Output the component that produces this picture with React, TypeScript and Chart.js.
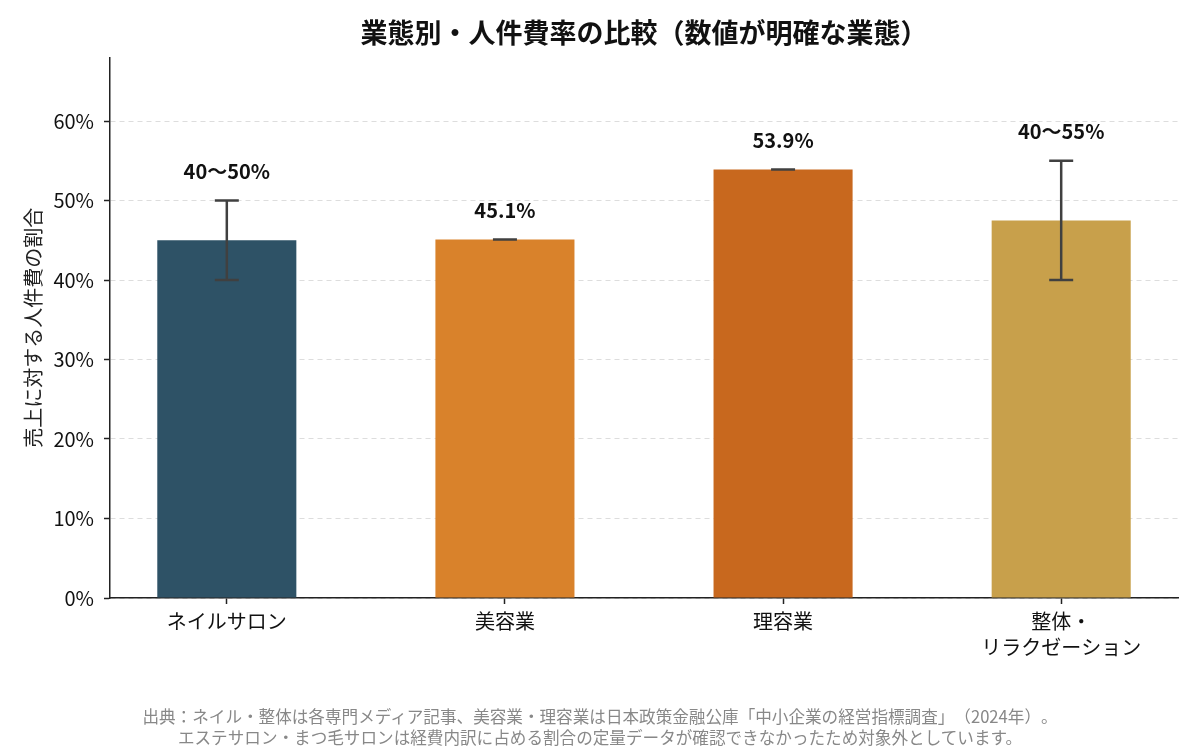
import { useEffect, useRef } from 'react';
import { Chart, registerables, Plugin } from 'chart.js';

Chart.register(...registerables);

const categories: (string | string[])[] = ['ネイルサロン', '美容業', '理容業', ['整体・', 'リラクゼーション']];
const values = [45, 45.1, 53.9, 47.5];
const lows = [40, 45.1, 53.9, 40];
const highs = [50, 45.1, 53.9, 55];
const valueLabels = ['40〜50%', '45.1%', '53.9%', '40〜55%'];
const barColors = ['#2E5266', '#D9822B', '#C8681E', '#C8A04B'];
const yTicks = [0, 10, 20, 30, 40, 50, 60];
const sourceNotes = [
  '出典：ネイル・整体は各専門メディア記事、美容業・理容業は日本政策金融公庫「中小企業の経営指標調査」（2024年）。',
  'エステサロン・まつ毛サロンは経費内訳に占める割合の定量データが確認できなかったため対象外としています。',
];

const FONT = "'Noto Sans CJK JP', 'Noto Sans', sans-serif";

// error bars + value labels above them
const rangePlugin: Plugin<'bar'> = {
  id: 'rangeBars',
  afterDatasetsDraw(chart) {
    const { ctx } = chart;
    const xs = chart.scales.x;
    const ys = chart.scales.y;
    ctx.save();
    ctx.strokeStyle = '#404040';
    ctx.lineWidth = 2.5;
    values.forEach((_, i) => {
      const x = xs.getPixelForValue(i);
      const yl = ys.getPixelForValue(lows[i]);
      const yh = ys.getPixelForValue(highs[i]);
      ctx.beginPath();
      ctx.moveTo(x, yl);
      ctx.lineTo(x, yh);
      ctx.moveTo(x - 12, yl);
      ctx.lineTo(x + 12, yl);
      ctx.moveTo(x - 12, yh);
      ctx.lineTo(x + 12, yh);
      ctx.stroke();
    });
    ctx.fillStyle = '#111';
    ctx.font = `bold 20px ${FONT}`;
    ctx.textAlign = 'center';
    ctx.textBaseline = 'middle';
    valueLabels.forEach((t, i) => {
      ctx.fillText(t, xs.getPixelForValue(i), ys.getPixelForValue(highs[i]) - 29);
    });
    ctx.restore();
  },
};

const CostChart = () => {
  const canvasRef = useRef<HTMLCanvasElement>(null);
  const chartRef = useRef<Chart<'bar'> | null>(null);

  useEffect(() => {
    if (!canvasRef.current) return;
    if (chartRef.current) chartRef.current.destroy();

    Chart.defaults.font.family = FONT;

    chartRef.current = new Chart(canvasRef.current, {
      type: 'bar',
      data: {
        datasets: [
          {
            data: values.map((v, i) => ({ x: i, y: v })),
            backgroundColor: barColors,
            borderWidth: 0,
            categoryPercentage: 1,
            barPercentage: 0.5,
          },
        ],
      },
      options: {
        animation: false,
        responsive: true,
        maintainAspectRatio: false,
        layout: { padding: { left: 0, right: 22, top: 0, bottom: 44 } },
        plugins: {
          legend: { display: false },
          tooltip: { enabled: false },
          title: {
            display: true,
            text: '業態別・人件費率の比較（数値が明確な業態）',
            fullSize: false,
            color: '#111',
            font: { size: 27, weight: 'bold' },
            padding: { top: 17, bottom: 8 },
          },
        },
        scales: {
          x: {
            type: 'linear',
            min: -0.42,
            max: 3.42,
            offset: false,
            afterBuildTicks: (axis) => {
              axis.ticks = categories.map((_, i) => ({ value: i }));
            },
            afterFit: (axis) => {
              axis.height = 108;
            },
            ticks: {
              color: '#111',
              font: { size: 20, lineHeight: 1.3 },
              padding: 4,
              maxRotation: 0,
              autoSkip: false,
              callback: (_v, i) => categories[i],
            },
            grid: {
              display: true,
              offset: false,
              drawOnChartArea: false,
              drawTicks: true,
              tickLength: 6,
              tickColor: '#222',
              tickWidth: 1.5,
            },
            border: { display: true, color: '#222', width: 1.5 },
          },
          y: {
            min: 0,
            max: 68,
            afterBuildTicks: (axis) => {
              axis.ticks = yTicks.map((v) => ({ value: v }));
            },
            afterFit: (axis) => {
              axis.width = 110;
            },
            ticks: {
              color: '#111',
              font: { size: 20 },
              padding: 10,
              callback: (v) => `${v}%`,
            },
            title: {
              display: true,
              text: '売上に対する人件費の割合',
              color: '#222',
              font: { size: 20 },
              padding: { top: 21, bottom: 0 },
            },
            grid: {
              color: '#dddddd',
              lineWidth: 1,
              tickLength: 6,
              tickColor: '#222',
              tickWidth: 1.5,
            },
            border: { display: true, color: '#222', width: 1.5, dash: [5, 4] },
          },
        },
      },
      plugins: [rangePlugin],
    });

    return () => {
      if (chartRef.current) {
        chartRef.current.destroy();
        chartRef.current = null;
      }
    };
  }, []);

  return (
    <div style={{ position: 'absolute', left: 0, top: 0, width: 1200, height: 750, background: '#fff' }}>
      <canvas ref={canvasRef}></canvas>
      <div
        style={{
          position: 'absolute',
          left: 0,
          top: 706,
          width: 1200,
          textAlign: 'center',
          fontFamily: FONT,
          fontSize: 16.6,
          lineHeight: '21px',
          color: '#888',
          textSpacingTrim: 'space-all',
        } as React.CSSProperties}
      >
        {sourceNotes.map((t) => (
          <div key={t}>{t}</div>
        ))}
      </div>
    </div>
  );
};

export default function App() {
  return <CostChart />;
}
